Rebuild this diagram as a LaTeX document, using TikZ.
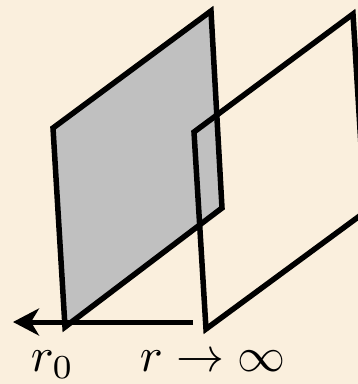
\documentclass[tikz,border=0pt]{standalone}
\usetikzlibrary{arrows.meta}
\definecolor{bgbeige}{RGB}{250,239,221}
\definecolor{planegray}{RGB}{192,192,192}
\begin{document}
\begin{tikzpicture}[x=1pt,y=-1pt,
  plane/.style={line width=5.5pt, line join=miter},
  lbl/.style={scale=4.8, inner sep=0pt, anchor=base west},
  axisarrow/.style={line width=5pt, -{Stealth[length=26pt,width=27pt,inset=8pt]}}]
\useasboundingbox (0,0) rectangle (358,384);
\fill[bgbeige] (0,0) rectangle (358,384);
\begin{scope}
\clip (0,0) rectangle (358,384);
% gray plane at r0
\coordinate (g1) at (65,327);
\coordinate (g2) at (53,128);
\coordinate (g3) at (211,11);
\coordinate (g4) at (222,208);
\filldraw[plane, fill=planegray] (g1) -- (g2) -- (g3) -- (g4) -- cycle;
% open plane at infinity
\coordinate (w1) at (206,329);
\coordinate (w2) at (194,132);
\coordinate (w3) at (353,14);
\coordinate (w4) at (365,212);
\draw[plane] (w1) -- (w2) -- (w3) -- (w4) -- cycle;
% arrow
\coordinate (astart) at (193,322);
\coordinate (aend) at (13,322);
\draw[axisarrow] (astart) -- (aend);
\end{scope}
\node[lbl] (r0) at (30,371) {$r_0$};
\node[lbl] (rinf) at (139,371) {$r\to\infty$};
\end{tikzpicture}
\end{document}
